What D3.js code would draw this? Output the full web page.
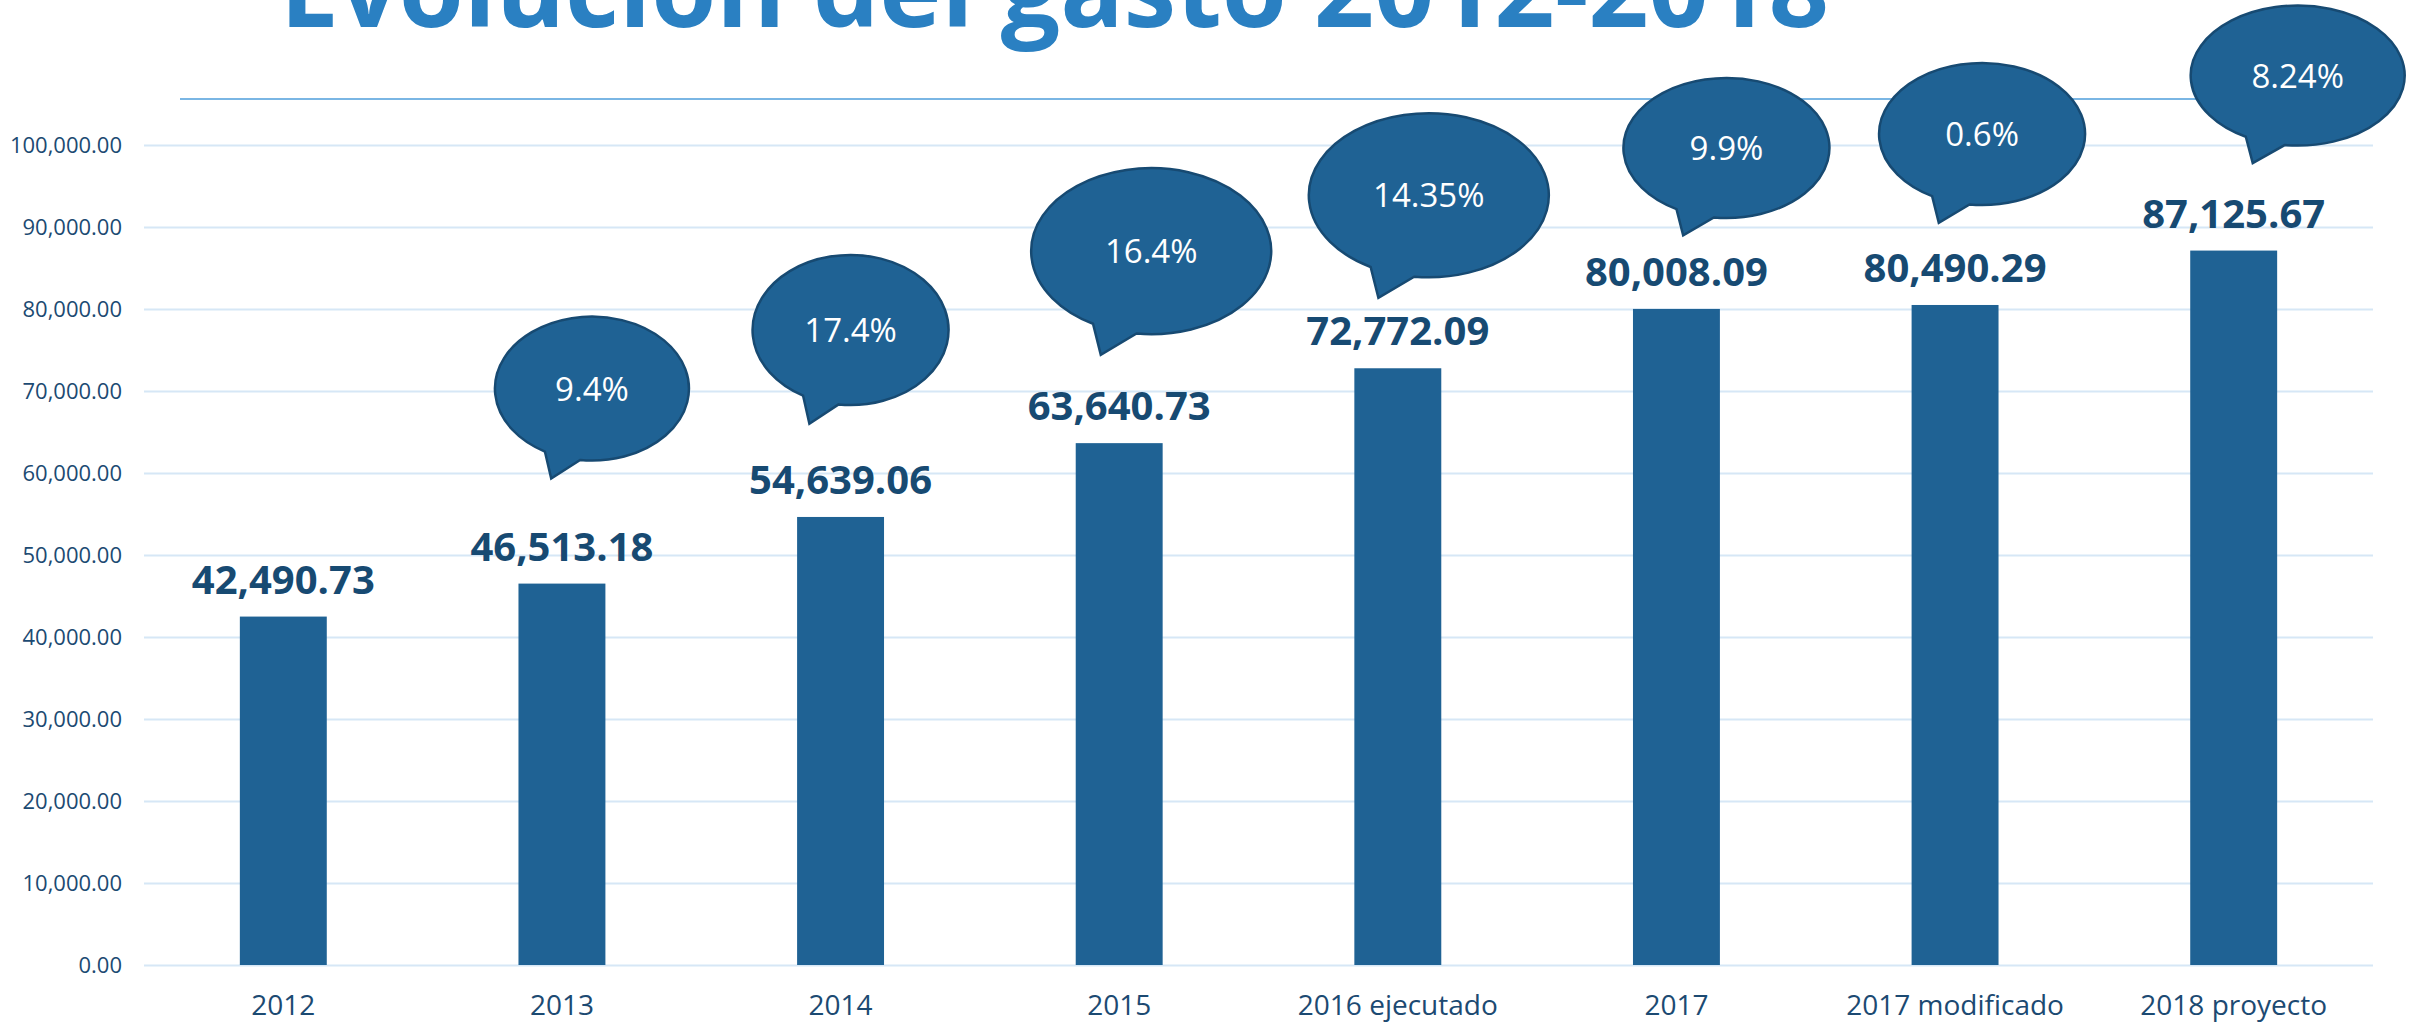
<!DOCTYPE html>
<html>
<head>
<meta charset="utf-8">
<script src="https://cdn.jsdelivr.net/npm/d3@7"></script>
<style>
  body { margin: 0; background: #fff; }
  svg { display: block; font-family: "Open Sans", sans-serif; }
</style>
</head>
<body>
<div id="chart"></div>
<script>
// data
const categories = ["2012", "2013", "2014", "2015", "2016 ejecutado", "2017", "2017 modificado", "2018 proyecto"]
const gasto = [42490.73, 46513.18, 54639.06, 63640.73, 72772.09, 80008.09, 80490.29, 87125.67]
const variacion = [null, "9.4%", "17.4%", "16.4%", "14.35%", "9.9%", "0.6%", "8.24%"]
const yTicks = [0, 10000, 20000, 30000, 40000, 50000, 60000, 70000, 80000, 90000, 100000]
const titulo = "Evolución del gasto 2012-2018"

// where each speech bubble sits, relative to the top of its bar
const bubbleLayout = [
  null,
  { dx: 30, dy: -195, rx: 97, ry: 72 },
  { dx: 10, dy: -187, rx: 98, ry: 75 },
  { dx: 32, dy: -192, rx: 120, ry: 83 },
  { dx: 31, dy: -173, rx: 120, ry: 82 },
  { dx: 50, dy: -161, rx: 103, ry: 70 },
  { dx: 27, dy: -171, rx: 103, ry: 71 },
  { dx: 64, dy: -175, rx: 107, ry: 70 }
]

var W = 2412, H = 1023
var margin = { top: 145, right: 39, bottom: 58, left: 144 }
var width = W - margin.left - margin.right,
    height = H - margin.top - margin.bottom

var svgRoot = d3.select("#chart").append("svg")
  .attr("width", W)
  .attr("height", H)

// title, cut off at the top like the original
svgRoot.append("text")
  .attr("x", 280)
  .attr("y", 27)
  .attr("textLength", 1549)
  .attr("lengthAdjust", "spacingAndGlyphs")
  .attr("font-size", 105)
  .attr("font-weight", 700)
  .attr("fill", "#2a80c2")
  .text(titulo)

svgRoot.append("line")
  .attr("x1", 180).attr("x2", 2380)
  .attr("y1", 99).attr("y2", 99)
  .attr("stroke", "#7ab6e4")
  .attr("stroke-width", 2)

var svg = svgRoot.append("g")
  .attr("transform", "translate(" + margin.left + "," + margin.top + ")")

const xPositionScale = d3.scaleBand().domain(categories).range([0, width])
  .paddingInner(0.688).paddingOuter(0.344)
const yPositionScale = d3.scaleLinear().domain([0, 100000]).range([height, 0])

// grid + y labels
var yAxis = d3.axisLeft(yPositionScale)
  .tickValues(yTicks)
  .tickSize(-width)
  .tickPadding(22)
  .tickFormat(d3.format(",.2f"))

var yG = svg.append("g").attr("class", "axis y-axis").call(yAxis)
yG.select(".domain").remove()
yG.selectAll(".tick line").attr("stroke", "#d6e7f6").attr("stroke-width", 2)
yG.selectAll(".tick text")
  .attr("font-size", 22)
  .attr("font-family", "Open Sans")
  .attr("fill", "#1c4a72")

// x labels
var xAxis = d3.axisBottom(xPositionScale).tickSize(0).tickPadding(30)
var xG = svg.append("g")
  .attr("class", "axis x-axis")
  .attr("transform", "translate(0," + height + ")")
  .call(xAxis)
xG.select(".domain").remove()
xG.selectAll(".tick text")
  .attr("font-size", 28)
  .attr("font-family", "Open Sans")
  .attr("fill", "#1c4a72")

var datapoints = categories.map((c, i) => ({ cat: c, value: gasto[i], pct: variacion[i], lay: bubbleLayout[i] }))

svg.selectAll(".bar")
  .data(datapoints)
  .enter().append("rect")
  .attr("class", "bar")
  .attr("x", d => xPositionScale(d.cat))
  .attr("y", d => yPositionScale(d.value))
  .attr("width", xPositionScale.bandwidth())
  .attr("height", d => height - yPositionScale(d.value))
  .attr("fill", "#1f6294")

svg.selectAll(".valor")
  .data(datapoints)
  .enter().append("text")
  .attr("class", "valor")
  .attr("x", d => xPositionScale(d.cat) + xPositionScale.bandwidth() / 2)
  .attr("y", d => yPositionScale(d.value) - 23)
  .attr("text-anchor", "middle")
  .attr("font-size", 40)
  .attr("font-weight", 700)
  .attr("fill", "#174a72")
  .text(d => d3.format(",.2f")(d.value))

// speech bubbles with the growth rate
function bubblePath(cx, cy, rx, ry) {
  var a1 = 97 * Math.PI / 180, a2 = 119 * Math.PI / 180
  var p1 = [cx + rx * Math.cos(a1), cy + ry * Math.sin(a1)]
  var p2 = [cx + rx * Math.cos(a2), cy + ry * Math.sin(a2)]
  var tip = [cx - 0.42 * rx, cy + 1.25 * ry]
  return "M" + p1 + " A" + rx + "," + ry + " 0 1 0 " + p2 + " L" + tip + " Z"
}

var bubbles = svg.selectAll(".bubble")
  .data(datapoints.filter(d => d.pct))
  .enter().append("g")
  .attr("class", "bubble")
  .attr("transform", d => "translate(" +
    (xPositionScale(d.cat) + xPositionScale.bandwidth() / 2 + d.lay.dx) + "," +
    (yPositionScale(d.value) + d.lay.dy) + ")")

bubbles.append("path")
  .attr("d", d => bubblePath(0, 0, d.lay.rx, d.lay.ry))
  .attr("fill", "#1f6294")
  .attr("stroke", "#174a72")
  .attr("stroke-width", 2.5)

bubbles.append("text")
  .attr("text-anchor", "middle")
  .attr("y", 12)
  .attr("font-size", 33)
  .attr("fill", "#ffffff")
  .text(d => d.pct)
</script>
</body>
</html>
